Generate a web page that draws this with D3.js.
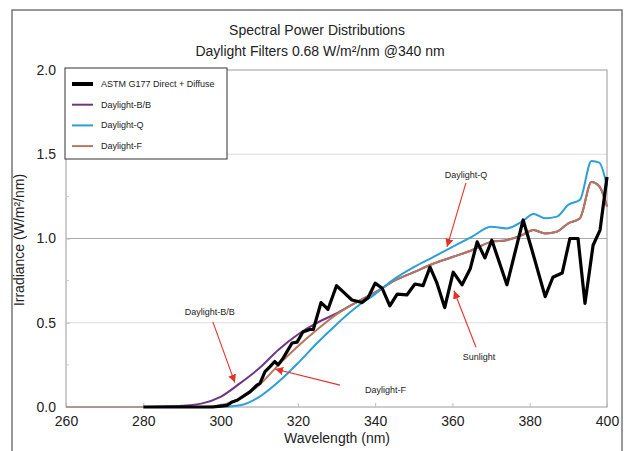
<!DOCTYPE html>
<html>
<head>
<meta charset="utf-8">
<script src="https://cdn.jsdelivr.net/npm/d3@7"></script>
<style>
  body { margin: 0; background: #fff; }
  text { font-family: "Liberation Sans", Arial, Helvetica, sans-serif; fill: #222; }
</style>
</head>
<body>
<div class="canvas"></div>
<script>

// DATA

var wavelengths = [260, 270, 280, 285, 290, 295, 300, 305, 310, 315, 320, 325, 330, 335, 340,
                   345, 350, 355, 360, 365, 370, 374, 378, 381, 384, 387, 390, 393, 396, 398, 400];

var daylightBB = [0, 0, 0, 0.003, 0.008, 0.02, 0.06, 0.14, 0.23, 0.34, 0.43, 0.50, 0.555, 0.62, 0.68,
                  0.75, 0.80, 0.85, 0.89, 0.93, 0.98, 0.99, 1.02, 1.05, 1.03, 1.04, 1.09, 1.12, 1.335, 1.31, 1.19];

var daylightQ = [0, 0, 0, 0, 0, 0, 0, 0.01, 0.06, 0.15, 0.26, 0.38, 0.49, 0.59, 0.67,
                 0.76, 0.83, 0.89, 0.95, 1.01, 1.07, 1.06, 1.10, 1.145, 1.12, 1.13, 1.20, 1.23, 1.46, 1.45, 1.31];

var daylightF = [0, 0, 0, 0, 0, 0, 0.01, 0.05, 0.13, 0.25, 0.36, 0.46, 0.55, 0.62, 0.68,
                 0.75, 0.80, 0.85, 0.89, 0.93, 0.98, 0.99, 1.02, 1.05, 1.03, 1.04, 1.09, 1.12, 1.335, 1.31, 1.19];

var sunWavelengths = [280, 285, 290, 295, 298, 300, 301.7, 303, 304.3, 306.3, 307.6, 309.4, 310.2, 311.5,
                      312.8, 314, 314.9, 316.2, 318.5, 319.8, 321.3, 323.1, 324, 326, 327.8, 330, 334,
                      336.6, 338.2, 340, 341.8, 343.8, 345.7, 348.2, 350.3, 352.4, 354.2, 356, 358,
                      360.2, 362.5, 364.6, 366.4, 368.4, 370.2, 374.1, 378.3, 380.6, 384, 386, 388.4,
                      390.4, 392.5, 394.3, 396.4, 398.2, 400];

var sunlight = [0, 0, 0, 0, 0, 0.005, 0.01, 0.03, 0.04, 0.07, 0.09, 0.13, 0.14, 0.21,
                0.24, 0.27, 0.25, 0.29, 0.38, 0.385, 0.445, 0.46, 0.46, 0.62, 0.58, 0.72, 0.635,
                0.62, 0.65, 0.735, 0.705, 0.60, 0.67, 0.665, 0.73, 0.72, 0.83, 0.735, 0.59,
                0.80, 0.725, 0.82, 0.98, 0.885, 0.99, 0.725, 1.11, 0.93, 0.655, 0.77, 0.795,
                1.0, 1.0, 0.615, 0.96, 1.05, 1.365];

var xTicks = [260, 280, 300, 320, 340, 360, 380, 400];
var yTicks = [0, 0.5, 1.0, 1.5, 2.0];


var W = 628, H = 451;
var margin = {top: 70, right: 21, bottom: 44, left: 66};

var svg = d3.select(".canvas")
            .append("svg")
            .attr("width", W)
            .attr("height", H);

var x = d3.scaleLinear().domain([260, 400]).range([margin.left, W - margin.right]);
var y = d3.scaleLinear().domain([0, 2]).range([H - margin.bottom, margin.top]);


// OUTER FRAME

svg.append("rect")
   .attr("x", 12)
   .attr("y", 10)
   .attr("width", 610)
   .attr("height", 460)
   .attr("fill", "none")
   .attr("stroke", "#777")
   .attr("stroke-width", 1.5);


// TITLE

svg.append("text")
   .attr("x", 317)
   .attr("y", 35)
   .attr("text-anchor", "middle")
   .style("font-size", "14px")
   .text("Spectral Power Distributions");

svg.append("text")
   .attr("x", 320)
   .attr("y", 56)
   .attr("text-anchor", "middle")
   .style("font-size", "14px")
   .text("Daylight Filters 0.68 W/m\u00B2/nm @340 nm");


// GRID

svg.append("g")
   .selectAll("line")
   .data([0.5, 1.0, 1.5])
   .enter()
   .append("line")
   .attr("x1", x(260))
   .attr("x2", x(400))
   .attr("y1", function(d){ return y(d); })
   .attr("y2", function(d){ return y(d); })
   .attr("stroke", function(d){ return d === 1.0 ? "#aaa" : "#ddd"; })
   .attr("stroke-width", 1);

// plot box
svg.append("rect")
   .attr("x", x(260))
   .attr("y", y(2))
   .attr("width", x(400) - x(260))
   .attr("height", y(0) - y(2))
   .attr("fill", "none")
   .attr("stroke", "#999")
   .attr("stroke-width", 1);


// AXES

var xAxis = svg.append("g")
   .attr("transform", "translate(0," + y(0) + ")")
   .call(d3.axisBottom(x).tickValues(xTicks).tickSize(-4).tickPadding(9).tickFormat(d3.format("d")));

var yAxis = svg.append("g")
   .attr("transform", "translate(" + x(260) + ",0)")
   .call(d3.axisLeft(y).tickValues(yTicks).tickSize(-4).tickPadding(10).tickFormat(d3.format(".1f")));

[xAxis, yAxis].forEach(function(a){
    a.select(".domain").remove();
    a.selectAll(".tick line").attr("stroke", "#bbb");
    a.selectAll(".tick text")
     .style("font-size", "14px")
     .style("font-family", "'Liberation Sans', Arial, sans-serif")
     .attr("fill", "#222");
});

// minor ticks on y
svg.append("g")
   .selectAll("line")
   .data(d3.range(0.25, 2, 0.5))
   .enter()
   .append("line")
   .attr("x1", x(260))
   .attr("x2", x(260) + 3)
   .attr("y1", function(d){ return y(d); })
   .attr("y2", function(d){ return y(d); })
   .attr("stroke", "#ccc");

svg.append("text")
   .attr("x", 337)
   .attr("y", 443)
   .attr("text-anchor", "middle")
   .style("font-size", "14px")
   .text("Wavelength (nm)");

svg.append("text")
   .attr("transform", "translate(24,240) rotate(-90)")
   .attr("text-anchor", "middle")
   .style("font-size", "14px")
   .text("Irradiance (W/m\u00B2/nm)");


// CURVES

var smooth = d3.line()
   .x(function(d){ return x(d[0]); })
   .y(function(d){ return y(d[1]); })
   .curve(d3.curveMonotoneX);

var jagged = d3.line()
   .x(function(d){ return x(d[0]); })
   .y(function(d){ return y(d[1]); });

// purple first so brown covers it past 340 nm
var series = [
    {name: "Daylight-B/B", values: daylightBB, color: "#70367f"},
    {name: "Daylight-F",   values: daylightF,  color: "#b5785e"},
    {name: "Daylight-Q",   values: daylightQ,  color: "#2b9fd6"}
];

series.forEach(function(s){
    svg.append("path")
       .datum(d3.zip(wavelengths, s.values))
       .attr("d", smooth)
       .attr("fill", "none")
       .attr("stroke", s.color)
       .attr("stroke-width", 2);
});

svg.append("path")
   .datum(d3.zip(sunWavelengths, sunlight))
   .attr("d", jagged)
   .attr("fill", "none")
   .attr("stroke", "#000")
   .attr("stroke-width", 3.2)
   .attr("stroke-linejoin", "round");

// brown over black at left end like the original
svg.append("path")
   .datum(d3.zip(wavelengths.slice(0, 3), daylightF.slice(0, 3)))
   .attr("d", smooth)
   .attr("fill", "none")
   .attr("stroke", "#d8957a")
   .attr("stroke-width", 1.5);


// LEGEND

var legend = svg.append("g");

legend.append("rect")
   .attr("x", 65)
   .attr("y", 68)
   .attr("width", 162)
   .attr("height", 91)
   .attr("fill", "#fff")
   .attr("stroke", "#333")
   .attr("stroke-width", 1);

var legendItems = [
    {name: "ASTM G177 Direct + Diffuse", color: "#000", w: 4},
    {name: "Daylight-B/B", color: "#70367f", w: 2},
    {name: "Daylight-Q", color: "#2b9fd6", w: 2},
    {name: "Daylight-F", color: "#b5785e", w: 2}
];

legendItems.forEach(function(item, i){
    var ly = 84 + i * 20.7;
    legend.append("line")
       .attr("x1", 72)
       .attr("x2", 93)
       .attr("y1", ly)
       .attr("y2", ly)
       .attr("stroke", item.color)
       .attr("stroke-width", item.w);
    legend.append("text")
       .attr("x", 101)
       .attr("y", ly + 3)
       .style("font-size", "9px")
       .text(item.name);
});


// ANNOTATIONS

svg.append("defs")
   .append("marker")
   .attr("id", "arrow")
   .attr("viewBox", "0 0 10 10")
   .attr("refX", 10)
   .attr("refY", 5)
   .attr("markerWidth", 8)
   .attr("markerHeight", 8)
   .attr("markerUnits", "userSpaceOnUse")
   .attr("orient", "auto")
   .append("path")
   .attr("d", "M0,0 L10,5 L0,10 Z")
   .attr("fill", "#e8302a");

var notes = [
    {text: "Daylight-Q",   tx: 363.5, ty: 1.36,  anchor: "middle", from: [363.5, 1.33], to: [358.6, 0.95]},
    {text: "Sunlight",     tx: 366.9, ty: 0.28,  anchor: "middle", from: [366.1, 0.355], to: [360.4, 0.69]},
    {text: "Daylight-B/B", tx: 297.2, ty: 0.545, anchor: "middle", from: [298.0, 0.505], to: [303.7, 0.145]},
    {text: "Daylight-F",   tx: 337.4, ty: 0.085, anchor: "start",  from: [330.9, 0.13],  to: [314.1, 0.225]}
];

notes.forEach(function(n){
    svg.append("text")
       .attr("x", x(n.tx))
       .attr("y", y(n.ty))
       .attr("text-anchor", n.anchor)
       .style("font-size", "9px")
       .text(n.text);
    svg.append("line")
       .attr("x1", x(n.from[0]))
       .attr("y1", y(n.from[1]))
       .attr("x2", x(n.to[0]))
       .attr("y2", y(n.to[1]))
       .attr("stroke", "#e8302a")
       .attr("stroke-width", 1.1)
       .attr("marker-end", "url(#arrow)");
});

</script>
</body>
</html>
